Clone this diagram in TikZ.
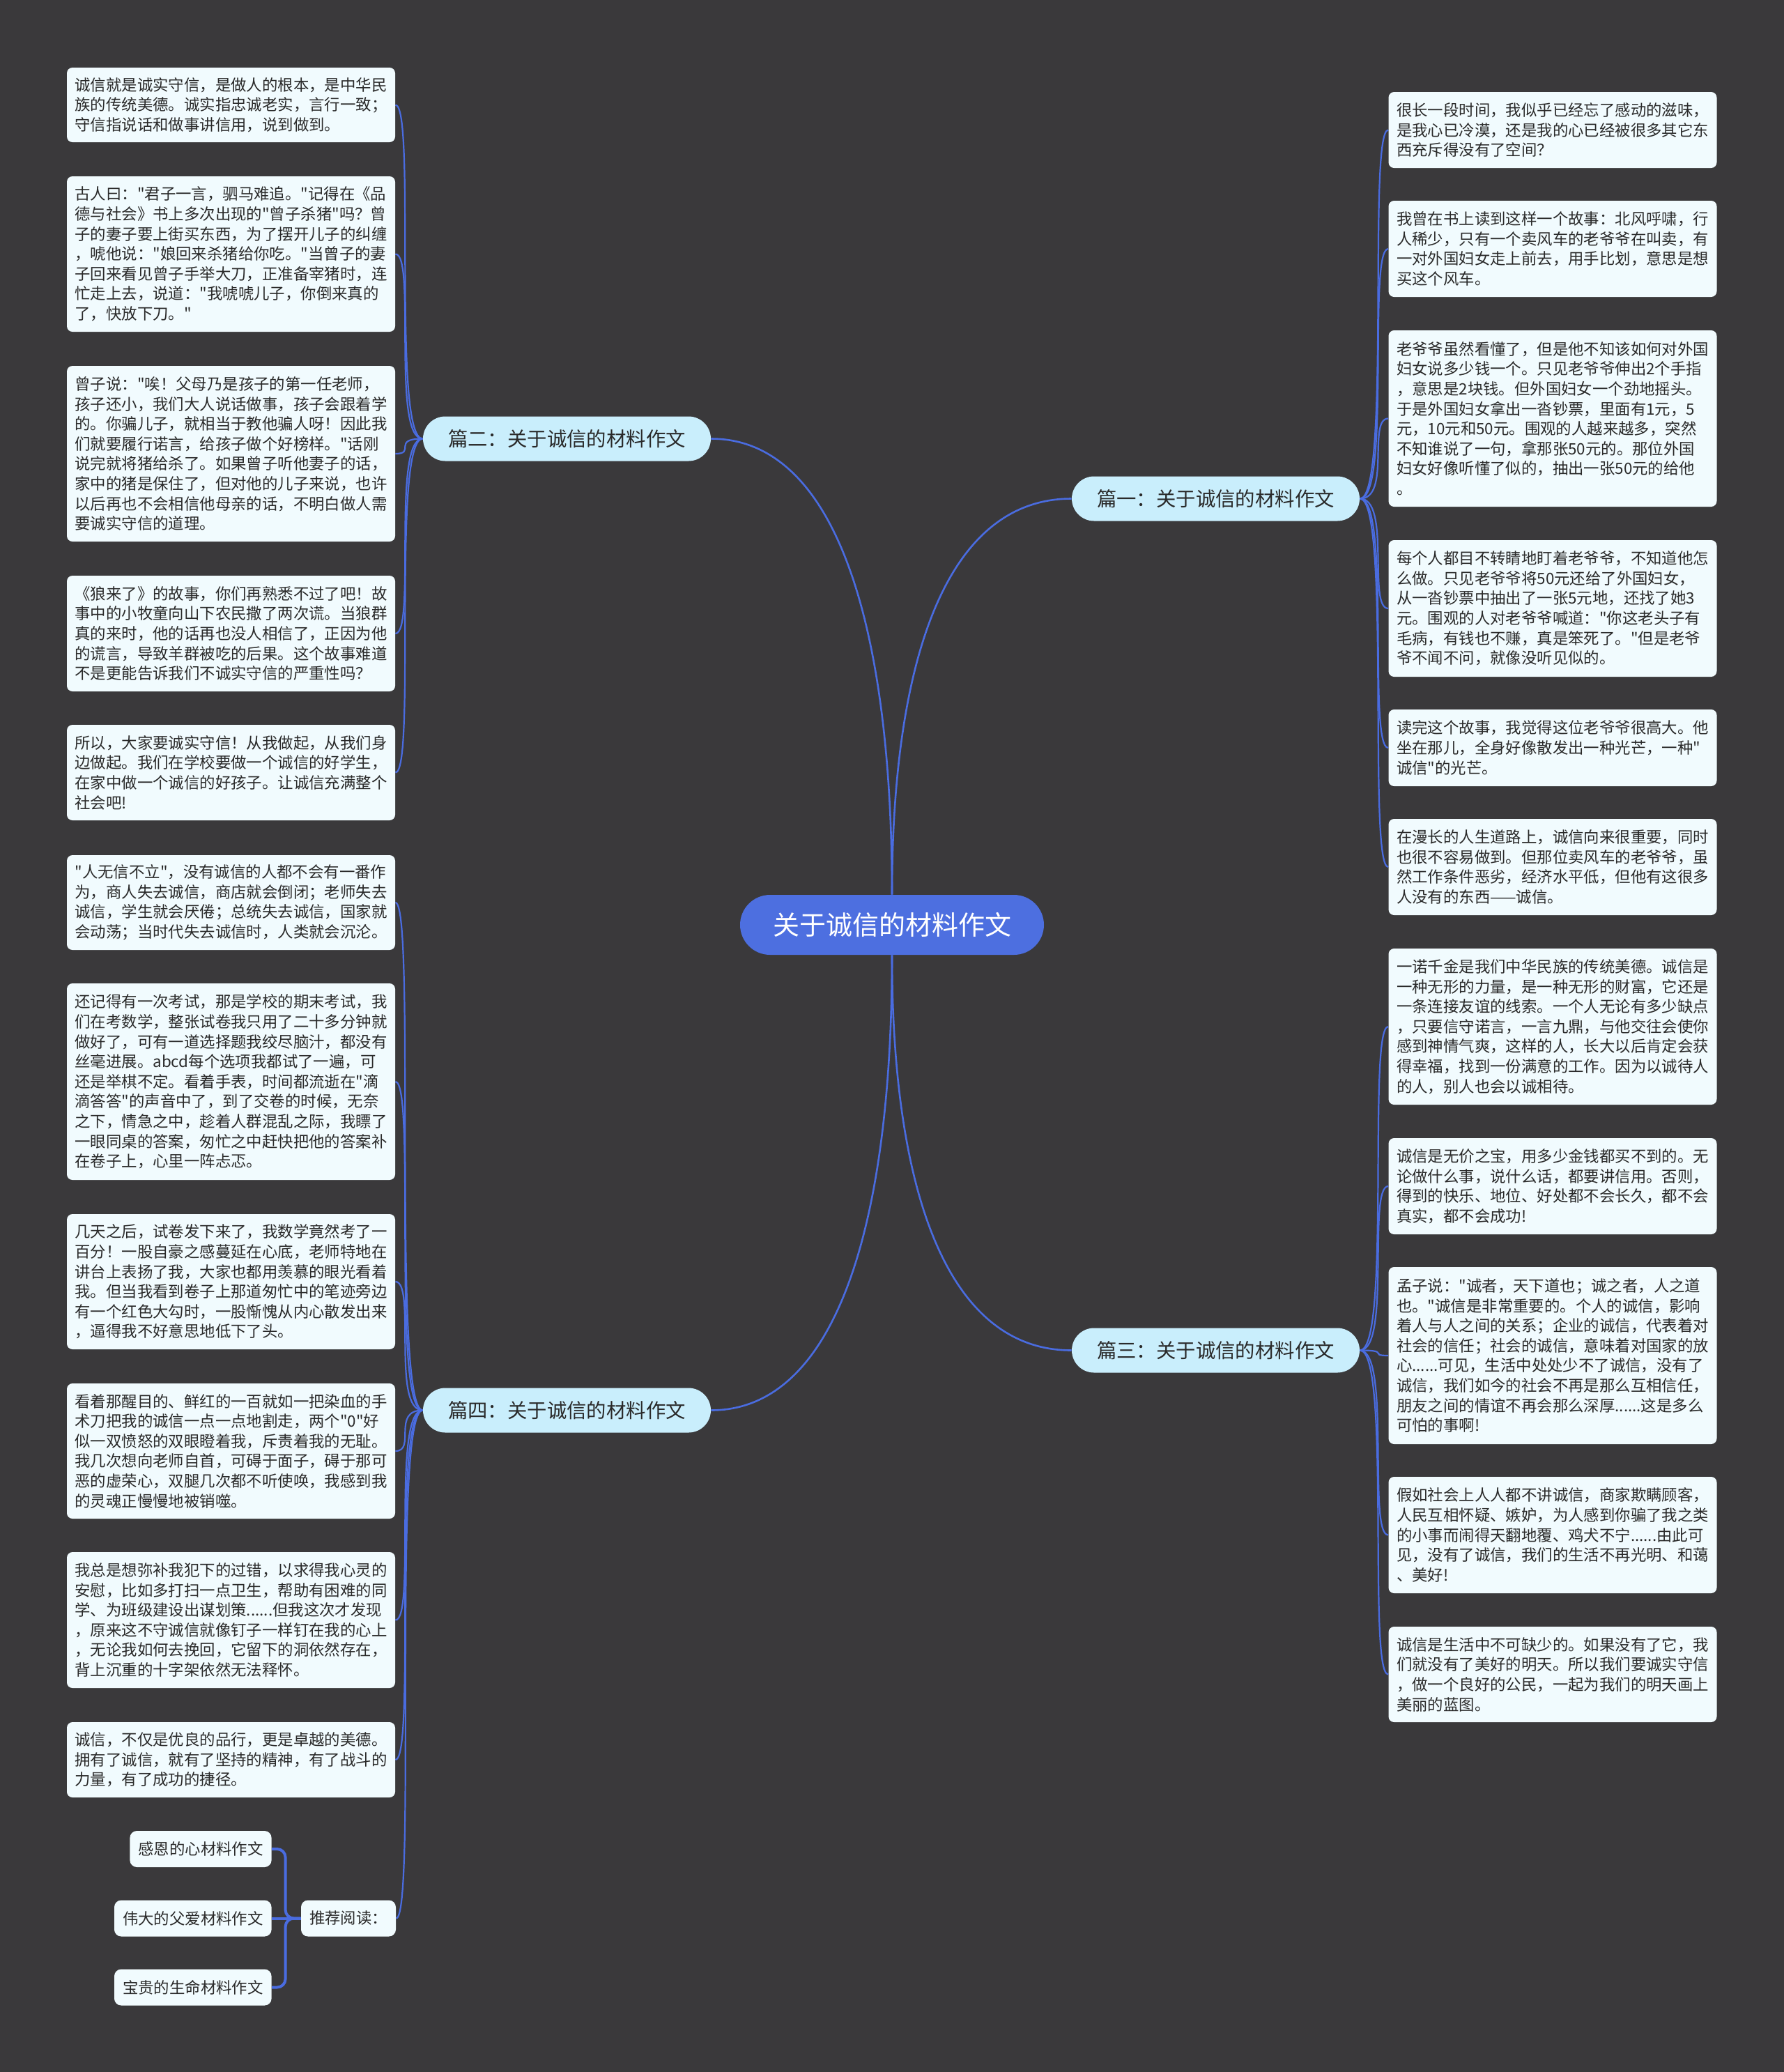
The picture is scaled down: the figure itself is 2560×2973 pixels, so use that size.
\documentclass[tikz,border=0pt]{standalone}
\usepackage{fontspec}
\setmainfont{Noto Sans CJK SC}[Ligatures=TeXOff]
\definecolor{bgc}{HTML}{3A393B}
\definecolor{boxfill}{HTML}{F1FBFE}
\definecolor{brfill}{HTML}{C9EEFC}
\definecolor{rootfill}{HTML}{4D6FE0}
\definecolor{linec}{HTML}{4A6CE0}
\definecolor{txtc}{HTML}{2A2A2A}
\pgfdeclarelayer{back}
\pgfsetlayers{back,main}
\begin{document}
\begin{tikzpicture}[x=0.5pt,y=-0.5pt,
  txt/.style={rectangle, rounded corners=4pt, fill=boxfill, text=txtc, text width=224pt, inner xsep=5.75pt, inner ysep=0pt, align=left, font=\fontsize{11.2pt}{14.3pt}\selectfont, minimum height=#1},
  small/.style={rectangle, rounded corners=5pt, fill=boxfill, text=txtc, inner xsep=6pt, inner ysep=0pt, minimum height=26pt, font=\fontsize{11.2pt}{14pt}\selectfont},
  br/.style={rectangle, rounded corners=16pt, fill=brfill, text=txtc, minimum width=206.5pt, minimum height=32pt, inner sep=0pt, font=\fontsize{14.2pt}{17pt}\selectfont},
  root/.style={rectangle, rounded corners=21.5pt, fill=rootfill, text=white, minimum width=218pt, minimum height=43pt, inner sep=0pt, font=\fontsize{19pt}{23pt}\selectfont},
  conn/.style={draw=linec, line width=1.1pt},
  mainc/.style={draw=linec, line width=1.3pt},
  brk/.style={draw=linec, line width=2pt, rounded corners=6pt}
]
\useasboundingbox (0,0) rectangle (2560,2973);
\begin{pgfonlayer}{back}
\fill[bgc] (0,0) rectangle (2560,2973);
\end{pgfonlayer}

% root and branches
\node[root] (root) at (1280,1327) {关于诚信的材料作文};
\node[br] (b1) at (1744.5,715.5) {篇一：关于诚信的材料作文};
\node[br] (b2) at (813.5,629.5) {篇二：关于诚信的材料作文};
\node[br] (b3) at (1744.5,1937.5) {篇三：关于诚信的材料作文};
\node[br] (b4) at (813.5,2023.5) {篇四：关于诚信的材料作文};

% left: 篇二
\node[txt=53.5pt] (L1) at (331.5,150.5) {诚信就是诚实守信，是做人的根本，是中华民\\族的传统美德。诚实指忠诚老实，言行一致；\\守信指说话和做事讲信用，说到做到。};
\node[txt=111.5pt] (L2) at (331.5,364.5) {古人曰："君子一言，驷马难追。"记得在《品\\德与社会》书上多次出现的"曾子杀猪"吗？曾\\子的妻子要上街买东西，为了摆开儿子的纠缠\\，唬他说："娘回来杀猪给你吃。"当曾子的妻\\子回来看见曾子手举大刀，正准备宰猪时，连\\忙走上去，说道："我唬唬儿子，你倒来真的\\了，快放下刀。"};
\node[txt=126pt] (L3) at (331.5,651) {曾子说："唉！父母乃是孩子的第一任老师，\\孩子还小，我们大人说话做事，孩子会跟着学\\的。你骗儿子，就相当于教他骗人呀！因此我\\们就要履行诺言，给孩子做个好榜样。"话刚\\说完就将猪给杀了。如果曾子听他妻子的话，\\家中的猪是保住了，但对他的儿子来说，也许\\以后再也不会相信他母亲的话，不明白做人需\\要诚实守信的道理。};
\node[txt=83pt] (L4) at (331.5,909) {《狼来了》的故事，你们再熟悉不过了吧！故\\事中的小牧童向山下农民撒了两次谎。当狼群\\真的来时，他的话再也没人相信了，正因为他\\的谎言，导致羊群被吃的后果。这个故事难道\\不是更能告诉我们不诚实守信的严重性吗？};
\node[txt=68.5pt] (L5) at (331.5,1108.5) {所以，大家要诚实守信！从我做起，从我们身\\边做起。我们在学校要做一个诚信的好学生，\\在家中做一个诚信的好孩子。让诚信充满整个\\社会吧!};

% left: 篇四
\node[txt=68pt] (L6) at (331.5,1295) {"人无信不立"，没有诚信的人都不会有一番作\\为，商人失去诚信，商店就会倒闭；老师失去\\诚信，学生就会厌倦；总统失去诚信，国家就\\会动荡；当时代失去诚信时，人类就会沉沦。};
\node[txt=141pt] (L7) at (331.5,1552) {还记得有一次考试，那是学校的期末考试，我\\们在考数学，整张试卷我只用了二十多分钟就\\做好了，可有一道选择题我绞尽脑汁，都没有\\丝毫进展。abcd每个选项我都试了一遍，可\\还是举棋不定。看着手表，时间都流逝在"滴\\滴答答"的声音中了，到了交卷的时候，无奈\\之下，情急之中，趁着人群混乱之际，我瞟了\\一眼同桌的答案，匆忙之中赶快把他的答案补\\在卷子上，心里一阵忐忑。};
\node[txt=97pt] (L8) at (331.5,1839) {几天之后，试卷发下来了，我数学竟然考了一\\百分！一股自豪之感蔓延在心底，老师特地在\\讲台上表扬了我，大家也都用羡慕的眼光看着\\我。但当我看到卷子上那道匆忙中的笔迹旁边\\有一个红色大勾时，一股惭愧从内心散发出来\\，逼得我不好意思地低下了头。};
\node[txt=97pt] (L9) at (331.5,2082) {看着那醒目的、鲜红的一百就如一把染血的手\\术刀把我的诚信一点一点地割走，两个"0"好\\似一双愤怒的双眼瞪着我，斥责着我的无耻。\\我几次想向老师自首，可碍于面子，碍于那可\\恶的虚荣心，双腿几次都不听使唤，我感到我\\的灵魂正慢慢地被销噬。};
\node[txt=97.5pt] (L10) at (331.5,2324.5) {我总是想弥补我犯下的过错，以求得我心灵的\\安慰，比如多打扫一点卫生，帮助有困难的同\\学、为班级建设出谋划策......但我这次才发现\\，原来这不守诚信就像钉子一样钉在我的心上\\，无论我如何去挽回，它留下的洞依然存在，\\背上沉重的十字架依然无法释怀。};
\node[txt=54pt] (L11) at (331.5,2525) {诚信，不仅是优良的品行，更是卓越的美德。\\拥有了诚信，就有了坚持的精神，有了战斗的\\力量，有了成功的捷径。};
\node[small, minimum width=67pt] (rec) at (500,2752.5) {推荐阅读：};
\node[small, anchor=east] (g1) at (390,2653) {感恩的心材料作文};
\node[small, anchor=east] (g2) at (390,2752.5) {伟大的父爱材料作文};
\node[small, anchor=east] (g3) at (390,2851.5) {宝贵的生命材料作文};

% right: 篇一
\node[txt=54.5pt] (R1) at (2228,186.5) {很长一段时间，我似乎已经忘了感动的滋味，\\是我心已冷漠，还是我的心已经被很多其它东\\西充斥得没有了空间？};
\node[txt=69pt] (R2) at (2228,357) {我曾在书上读到这样一个故事：北风呼啸，行\\人稀少，只有一个卖风车的老爷爷在叫卖，有\\一对外国妇女走上前去，用手比划，意思是想\\买这个风车。};
\node[txt=126.5pt] (R3) at (2228,600.5) {老爷爷虽然看懂了，但是他不知该如何对外国\\妇女说多少钱一个。只见老爷爷伸出2个手指\\，意思是2块钱。但外国妇女一个劲地摇头。\\于是外国妇女拿出一沓钞票，里面有1元，5\\元，10元和50元。围观的人越来越多，突然\\不知谁说了一句，拿那张50元的。那位外国\\妇女好像听懂了似的，抽出一张50元的给他\\。};
\node[txt=98pt] (R4) at (2228,873) {每个人都目不转睛地盯着老爷爷，不知道他怎\\么做。只见老爷爷将50元还给了外国妇女，\\从一沓钞票中抽出了一张5元地，还找了她3\\元。围观的人对老爷爷喊道："你这老头子有\\毛病，有钱也不赚，真是笨死了。"但是老爷\\爷不闻不问，就像没听见似的。};
\node[txt=55pt] (R5) at (2228,1073) {读完这个故事，我觉得这位老爷爷很高大。他\\坐在那儿，全身好像散发出一种光芒，一种"\\诚信"的光芒。};
\node[txt=69pt] (R6) at (2228,1244) {在漫长的人生道路上，诚信向来很重要，同时\\也很不容易做到。但那位卖风车的老爷爷，虽\\然工作条件恶劣，经济水平低，但他有这很多\\人没有的东西——诚信。};

% right: 篇三
\node[txt=112pt] (R7) at (2228,1473) {一诺千金是我们中华民族的传统美德。诚信是\\一种无形的力量，是一种无形的财富，它还是\\一条连接友谊的线索。一个人无论有多少缺点\\，只要信守诺言，一言九鼎，与他交往会使你\\感到神情气爽，这样的人，长大以后肯定会获\\得幸福，找到一份满意的工作。因为以诚待人\\的人，别人也会以诚相待。};
\node[txt=69pt] (R8) at (2228,1702) {诚信是无价之宝，用多少金钱都买不到的。无\\论做什么事，说什么话，都要讲信用。否则，\\得到的快乐、地位、好处都不会长久，都不会\\真实，都不会成功!};
\node[txt=127pt] (R9) at (2228,1945) {孟子说："诚者，天下道也；诚之者，人之道\\也。"诚信是非常重要的。个人的诚信，影响\\着人与人之间的关系；企业的诚信，代表着对\\社会的信任；社会的诚信，意味着对国家的放\\心......可见，生活中处处少不了诚信，没有了\\诚信，我们如今的社会不再是那么互相信任，\\朋友之间的情谊不再会那么深厚......这是多么\\可怕的事啊!};
\node[txt=83.5pt] (R10) at (2228,2202.5) {假如社会上人人都不讲诚信，商家欺瞒顾客，\\人民互相怀疑、嫉妒，为人感到你骗了我之类\\的小事而闹得天翻地覆、鸡犬不宁......由此可\\见，没有了诚信，我们的生活不再光明、和蔼\\、美好!};
\node[txt=68.5pt] (R11) at (2228,2402.5) {诚信是生活中不可缺少的。如果没有了它，我\\们就没有了美好的明天。所以我们要诚实守信\\，做一个良好的公民，一起为我们的明天画上\\美丽的蓝图。};

\begin{pgfonlayer}{back}
% root to branches
\draw[mainc] (root.north) .. controls +(0,-336) and +(-180,0) .. (b1.west);
\draw[mainc] (root.north) .. controls +(0,-384) and +(180,0) .. (b2.east);
\draw[mainc] (root.south) .. controls +(0,335) and +(-180,0) .. (b3.west);
\draw[mainc] (root.south) .. controls +(0,385) and +(180,0) .. (b4.east);
% left children
\foreach \c in {L1,L2,L3,L4,L5}
  \draw[conn] (b2.west) .. controls +(-45,0) and +(30,0) .. (\c.east);
\foreach \c in {L6,L7,L8,L9,L10,L11,rec}
  \draw[conn] (b4.west) .. controls +(-45,0) and +(30,0) .. (\c.east);
% right children
\foreach \c in {R1,R2,R3,R4,R5,R6}
  \draw[conn] (b1.east) .. controls +(45,0) and +(-30,0) .. (\c.west);
\foreach \c in {R7,R8,R9,R10,R11}
  \draw[conn] (b3.east) .. controls +(45,0) and +(-30,0) .. (\c.west);
% recommended reading bracket
\draw[brk] (rec.west) -- ++(-22,0) |- (g1.east);
\draw[brk] (rec.west) -- (g2.east);
\draw[brk] (rec.west) -- ++(-22,0) |- (g3.east);
\end{pgfonlayer}
\end{tikzpicture}
\end{document}
